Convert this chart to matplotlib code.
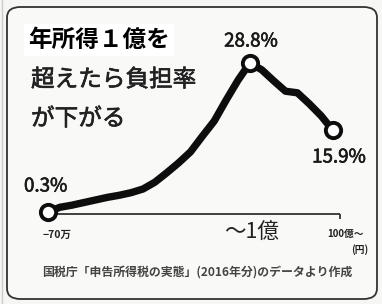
import matplotlib
matplotlib.use("Agg")
import matplotlib.pyplot as plt
import matplotlib.patheffects as pe
from matplotlib.patches import FancyBboxPatch

plt.rcParams['font.family'] = ['Noto Sans CJK JP', 'DejaVu Sans']

# 所得階級(円)
categories = ['~70万', '~100万', '~150万', '~200万', '~250万', '~300万',
              '~400万', '~500万', '~600万', '~700万', '~800万', '~1000万',
              '~1200万', '~1500万', '~2000万', '~3000万', '~5000万', '~1億',
              '~2億', '~5億', '~10億', '~20億', '~50億', '~100億', '100億~']
# 所得税負担率(%)
rate = [0.3, 1.2, 1.6, 2.1, 2.6, 3.1, 3.5, 4.0, 4.7, 6.0, 7.8, 9.7,
        11.8, 14.8, 17.7, 21.7, 25.5, 28.8, 27.5, 25.4, 23.4, 23.1,
        21.0, 18.7, 15.9]
marked = [0, 17, 24]
marked_text = ['0.3%', '28.8%', '15.9%']
tick_text = ['−70万', '～1億', '100億～']

W, H = 382, 304
fig = plt.figure(figsize=(W / 100, H / 100), dpi=100)
fig.patch.set_facecolor('#f6f6f4')
ax = fig.add_axes([0, 0, 1, 1])
ax.set_facecolor('none')
ax.axis('off')

# pixel mapping: first point at x=48, last at x=333; 0.3% at y=212, 28.8% at y=63
n = len(categories) - 1
sx = (333 - 48) / n
sy = (212 - 63) / (28.8 - 0.3)
ax.set_xlim(-48 / sx, n + (W - 333) / sx)
ax.set_ylim(0.3 - (H - 212) / sy, 28.8 + 63 / sy)

def px(x, y):
    return x / W, 1 - y / H

thick = [pe.withStroke(linewidth=0.45, foreground='#1a1a1a')]

# frame
frame = FancyBboxPatch(px(7, 299), (W - 5 - 7) / W, (299 - 7) / H,
                       boxstyle='round,pad=0,rounding_size=0.035',
                       transform=fig.transFigure, facecolor='#f9f9f7',
                       edgecolor='#333333', linewidth=1.3, zorder=0)
fig.add_artist(frame)
fig.add_artist(plt.Line2D([2 / W, 2 / W], [0, 1], color='#cccccc', lw=1))

# base axis
ax.hlines(-0.1, 0.6, n + 0.6, color='#222222', lw=1.2)
ax.vlines(n + 0.6, -0.1, -1.1, color='#222222', lw=1.2)

x = list(range(len(categories)))
ax.plot(x, rate, color='#0d0d0d', lw=5.3, solid_capstyle='round',
        solid_joinstyle='round', zorder=3)
ax.plot([x[i] for i in marked], [rate[i] for i in marked], 'o', ms=11,
        mfc='white', mec='#0d0d0d', mew=2.8, zorder=4)

# value labels
fig.text(*px(24, 186), marked_text[0], fontsize=13.5, va='center', ha='left',
         color='#1a1a1a', path_effects=thick)
fig.text(*px(251, 41), marked_text[1], fontsize=13.5, va='center', ha='center',
         color='#1a1a1a', path_effects=thick)
fig.text(*px(366, 157), marked_text[2], fontsize=13.5, va='center', ha='right',
         color='#1a1a1a', path_effects=thick)

# x labels
fig.text(*px(57, 235), tick_text[0], fontsize=7.5, ha='center', va='center',
         color='#222222', fontweight='bold')
fig.text(*px(252, 233), tick_text[1], fontsize=15.5, ha='center', va='center',
         color='#222222')
fig.text(*px(346, 234), tick_text[2], fontsize=7, ha='center', va='center',
         color='#222222', fontweight='bold')
fig.text(*px(368, 250), '(円)', fontsize=7, ha='right', va='center',
         color='#222222', fontweight='bold')

# title
fig.text(*px(28, 40), '年所得１億を', fontsize=17, fontweight='bold', ha='left',
         va='center', color='black',
         bbox=dict(facecolor='white', edgecolor='none', pad=3))
fig.text(*px(31, 80), '超えたら負担率', fontsize=17, ha='left', va='center',
         color='#222222', path_effects=thick)
fig.text(*px(31, 119), 'が下がる', fontsize=17, ha='left', va='center',
         color='#222222', path_effects=thick)

fig.text(*px(197, 272), '国税庁「申告所得税の実態」(2016年分)のデータより作成',
         fontsize=8.6, ha='center', va='center', color='#444444',
         fontweight='bold')

fig.savefig('out.png', dpi=100, facecolor=fig.get_facecolor())
